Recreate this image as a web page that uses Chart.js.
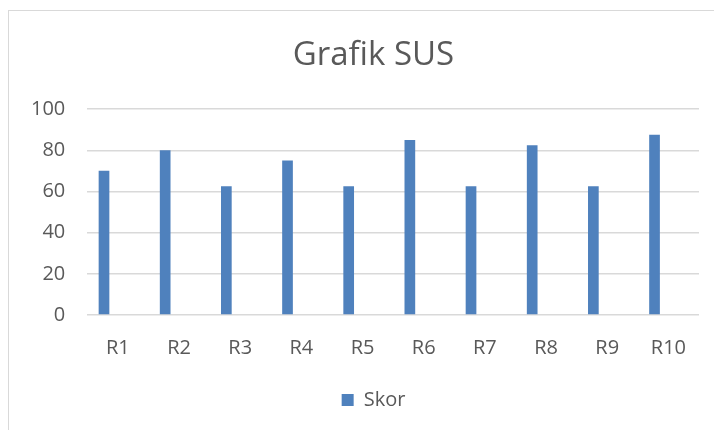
<!DOCTYPE html>
<html>
<head>
<meta charset="utf-8">
<script src="https://cdn.jsdelivr.net/npm/chart.js@4.4.0/dist/chart.umd.min.js"></script>
<style>
  html, body { margin: 0; padding: 0; background: #fff; overflow: hidden; width: 714px; height: 430px; }
  #wrap { position: absolute; left: 8px; top: 10px; width: 729px; height: 438px; border: 1px solid #d9d9d9; }
  #c { display: block; }
</style>
</head>
<body>
<div id="wrap"><canvas id="c"></canvas></div>
<script>
const categories = ['R1', 'R2', 'R3', 'R4', 'R5', 'R6', 'R7', 'R8', 'R9', 'R10'];
const skor = [70, 80, 62.5, 75, 62.5, 85, 62.5, 82.5, 62.5, 87.5];
// empty second series of the original worksheet (keeps the bar offset to the left)
const emptySeries = [null, null, null, null, null, null, null, null, null, null];
const yTicks = [0, 20, 40, 60, 80, 100];

const textColor = '#595959';
const font = 'Open Sans';

new Chart(document.getElementById('c'), {
  type: 'bar',
  data: {
    labels: categories,
    datasets: [
      { label: 'Skor', data: skor, backgroundColor: '#4f81bd', borderWidth: 0,
        categoryPercentage: 0.908, barPercentage: 0.385 },
      { label: '', data: emptySeries, backgroundColor: '#c0504d', borderWidth: 0,
        categoryPercentage: 0.908, barPercentage: 0.385 }
    ]
  },
  options: {
    responsive: true,
    maintainAspectRatio: false,
    animation: false,
    layout: { padding: { left: 0, right: 0, top: 0, bottom: 29 } },
    plugins: {
      title: {
        display: true, text: 'Grafik SUS', color: textColor,
        font: { family: font, size: 33, weight: 'normal' },
        padding: { top: 25, bottom: 33.5 }
      },
      legend: {
        position: 'bottom',
        labels: {
          color: textColor, font: { family: font, size: 20 },
          boxWidth: 12, boxHeight: 12, padding: 8,
          filter: (item) => item.datasetIndex === 0
        }
      },
      tooltip: { enabled: false }
    },
    scales: {
      x: {
        grid: { display: false, drawTicks: false },
        border: { display: false },
        ticks: { color: textColor, font: { family: font, size: 20 }, padding: 21.5 }
      },
      y: {
        min: 0, max: 100,
        afterBuildTicks: (s) => { s.ticks = yTicks.map(v => ({ value: v })); },
        grid: { color: '#d9d9d9', lineWidth: 1.5, drawTicks: false },
        border: { display: false },
        ticks: { color: textColor, font: { family: font, size: 20 }, padding: 22 }
      },
      spacer: {
        position: 'right', display: true,
        grid: { display: false, drawTicks: false },
        border: { display: false },
        ticks: { display: false },
        afterFit: (s) => { s.width = 39; }
      }
    }
  }
});
</script>
</body>
</html>
